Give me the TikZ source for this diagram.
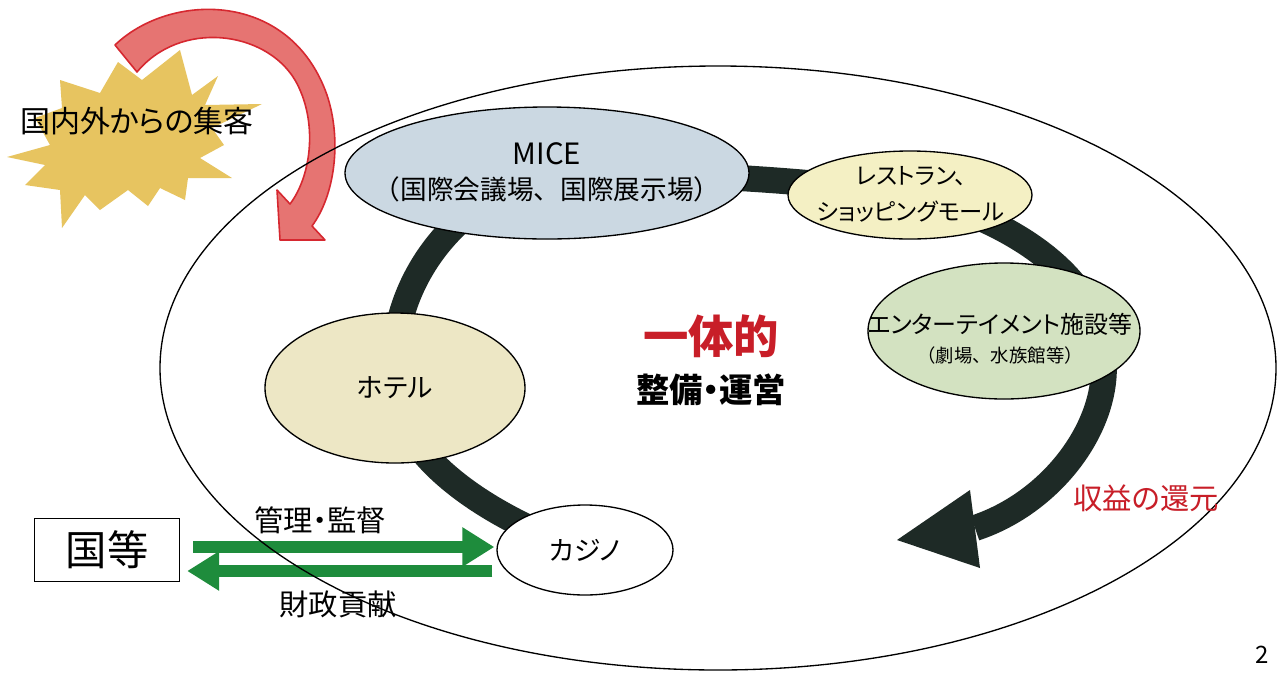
\documentclass[tikz,border=0pt]{standalone}
\usepackage{fontspec}
\setmainfont{Noto Sans CJK JP}[RawFeature=+palt]
\newfontfamily\jpfull{Noto Sans CJK JP}
\usepackage{tikz}
\usetikzlibrary{shapes.geometric,arrows.meta,backgrounds,calc}

\definecolor{micecol}{RGB}{203,216,226}
\definecolor{restocol}{RGB}{244,240,196}
\definecolor{entercol}{RGB}{211,226,193}
\definecolor{hotelcol}{RGB}{237,231,197}
\definecolor{ringcol}{RGB}{30,42,38}
\definecolor{redfill}{RGB}{230,116,114}
\definecolor{redline}{RGB}{214,40,48}
\definecolor{starcol}{RGB}{231,196,96}
\definecolor{greencol}{RGB}{30,140,60}
\definecolor{redtext}{RGB}{200,30,40}

\begin{document}
\begin{tikzpicture}[x=0.75pt,y=0.75pt,yscale=-1,xscale=1,
  ell/.style={ellipse,draw=black,line width=1pt,inner sep=0pt},
  lbl/.style={inner sep=0pt,align=center,text=black},
  ring/.style={draw=ringcol,line width=19.5pt},
  garrow/.style={draw=greencol,line width=9pt,-{Triangle[length=24pt,width=28pt]}}]
\useasboundingbox (0,0) rectangle (1279,672);

%Shape: Star burst
\fill[starcol] (180,50) -- (192,95) -- (218,76) -- (205,105) -- (262,104) -- (212,128) -- (224,145) -- (200,158) -- (232,178) -- (188,178) -- (185,200) -- (160,188) -- (148,206) -- (128,190) -- (100,210) -- (85,195) -- (62,228) -- (60,190) -- (25,185) -- (45,165) -- (7,157) -- (50,145) -- (35,118) -- (62,108) -- (60,80) -- (100,93) -- (118,62) -- (142,80) -- cycle;

%Shape: Curved red arrow
\filldraw[fill=redfill,draw=redline,line width=1.2pt,line join=round] (115,45) .. controls (170,-8) and (290,-10) .. (327,95) .. controls (342,140) and (335,195) .. (312,226) -- (325,240) -- (280,240) -- (277,190) -- (290,204) .. controls (312,175) and (318,120) .. (295,80) .. controls (265,30) and (180,20) .. (137,72) -- cycle;

%Shape: Ellipses
\node[ell,fill=micecol,minimum width=303pt,minimum height=99pt] (mice) at (547,173) {};
\node[ell,fill=restocol,minimum width=183pt,minimum height=66pt] (resto) at (910,195) {};
\node[ell,fill=entercol,minimum width=204pt,minimum height=102pt] (enter) at (1004,331) {};
\node[ell,fill=hotelcol,minimum width=195pt,minimum height=112.5pt] (hotel) at (395,388) {};
\node[ell,fill=white,minimum width=132pt,minimum height=67.5pt] (casino) at (585,550) {};
%Shape: Rectangle
\node[draw=black,line width=0.8pt,minimum width=109pt,minimum height=47pt,inner sep=0pt,font={\fontsize{31pt}{34pt}\selectfont}] (kuni) at (107,550) {国等};

%Shape: Ring band
\coordinate (ringend) at (975,528);
\begin{pgfonlayer}{background}
\fill[white] (0,0) rectangle (1279,672);
\draw[ring] (casino.center) .. controls (520,530) and (400,470) .. (hotel.center) .. controls (385,290) and (450,200) .. (mice.center) .. controls (650,172) and (800,178) .. (resto.center) .. controls (1000,215) and (1090,270) .. (1100,340) .. controls (1120,410) and (1060,500) .. (ringend);
\end{pgfonlayer}
\fill[ringcol] ($(ringend)+(-5,-38)$) -- (897,540) -- ($(ringend)+(5,40)$) -- cycle;

%Straight Lines
\draw[garrow] ($(kuni.east)+(13,-3)$) -- ($(casino.west)+(-2,-3)$);
\draw[garrow] ($(casino.west)+(-4,21)$) -- ($(kuni.east)+(7,21)$);

%Shape: Outer ellipse
\draw[line width=1pt] (718,368) ellipse [x radius=558, y radius=302];

%Texts
\node[lbl,font={\fontsize{22.5pt}{26pt}\selectfont}] (gather) at (137,121) {国内外からの集客};
\node[lbl,font={\fontsize{20pt}{26pt}\selectfont}] (mice-txt) at (547,172) {{\fontsize{22pt}{26pt}\selectfont MICE}\\{\jpfull （国際会議場、国際展示場）}};
\node[lbl,font={\fontsize{17.5pt}{27pt}\selectfont}] (resto-txt) at (911,194) {レストラン、\\ショッピングモール};
\node[lbl,font={\fontsize{18pt}{22pt}\selectfont}] (enter-txt) at (1000,339) {エンターテイメント施設等\\{\jpfull\fontsize{13.8pt}{22pt}\selectfont （劇場、水族館等）}};
\node[lbl,font={\fontsize{20pt}{24pt}\selectfont}] (hotel-txt) at (hotel) {ホテル};
\node[lbl,font={\fontsize{20pt}{24pt}\selectfont}] (casino-txt) at (casino) {カジノ};
\node[lbl,text=redtext,font={\fontsize{34pt}{38pt}\selectfont\bfseries}] (unity) at (711,336) {一体的};
\node[lbl,font={\fontsize{25pt}{28pt}\selectfont\bfseries}] (manage) at (711,390) {整備・運営};
\node[lbl,text=redtext,font={\fontsize{22pt}{26pt}\selectfont}] (profit) at (1146,498) {収益の還元};
\node[lbl,font={\fontsize{22pt}{26pt}\selectfont}] (control) at (320,520) {管理・監督};
\node[lbl,font={\fontsize{22pt}{26pt}\selectfont}] (finance) at (338,604) {財政貢献};
\node[lbl,font={\fontsize{18pt}{20pt}\selectfont}] (pageno) at (1262,655) {2};

\end{tikzpicture}
\end{document}
